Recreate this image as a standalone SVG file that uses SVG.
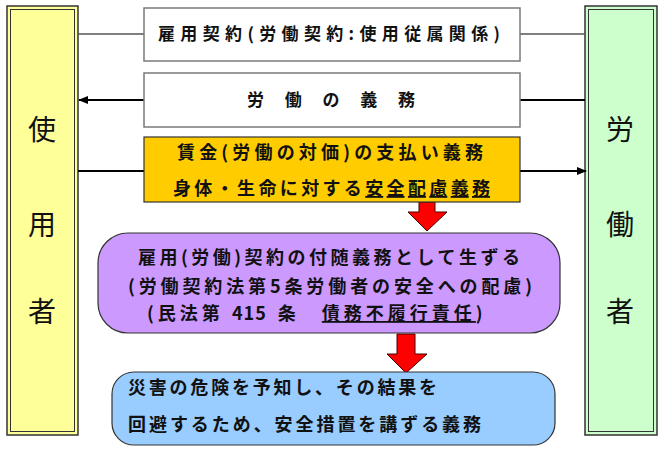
<svg xmlns="http://www.w3.org/2000/svg" width="667" height="455" viewBox="0 0 667 455">
<defs>
<style>
text{font-family:"Noto Sans CJK JP","Noto Sans CJK SC",sans-serif;font-weight:bold;fill:#111;}
.t17{font-size:17px;}
.t18{font-size:18px;}
.big{font-size:28px;font-weight:normal;text-anchor:middle;}
.side-outer{stroke:#333;stroke-width:1.5;}
.side-inner{fill:none;stroke:#333;stroke-width:1;}
.wbox{fill:#fff;stroke:#7a7a7a;stroke-width:1.5;}
.dbox{stroke:#333;stroke-width:1.2;}
.thin{stroke:#555;stroke-width:1.3;fill:none;}
.thick{stroke:#000;stroke-width:2.2;fill:none;}
.red{fill:#ff0000;stroke:#400;stroke-width:1;}
.u{text-decoration:underline;}
</style>
<marker id="ah" markerWidth="10" markerHeight="8" refX="9" refY="4" orient="auto" markerUnits="userSpaceOnUse">
<path d="M0,0 L10,4 L0,8 Z" fill="#000"/>
</marker>
</defs>

<g id="employer">
<rect class="side-outer" x="7" y="6" width="71" height="429" fill="#ffff99"/>
<rect class="side-inner" x="10.5" y="9.5" width="64" height="422"/>
<text class="big" x="42" y="140">使</text>
<text class="big" x="42" y="235">用</text>
<text class="big" x="42" y="322">者</text>
</g>

<g id="worker">
<rect class="side-outer" x="585" y="6" width="72" height="429" fill="#ccffcc"/>
<rect class="side-inner" x="588.5" y="9.5" width="65" height="422"/>
<text class="big" x="620" y="140">労</text>
<text class="big" x="620" y="235">働</text>
<text class="big" x="620" y="322">者</text>
</g>

<g id="connectors">
<line class="thin" x1="78" y1="34" x2="144" y2="34"/>
<line class="thin" x1="520" y1="34" x2="585" y2="34"/>
<line class="thick" x1="144" y1="100" x2="79" y2="100" marker-end="url(#ah)"/>
<line class="thick" x1="520" y1="100" x2="585" y2="100"/>
<line class="thick" x1="78" y1="171" x2="144" y2="171"/>
<line class="thick" x1="520" y1="171" x2="586" y2="171" marker-end="url(#ah)"/>
<polygon class="red" points="419,202 435,202 435,212 447,212 427,231 408,212 419,212"/>
<polygon class="red" points="397,334 415,334 415,354 427,354 406,373 387,354 397,354"/>
</g>

<g id="contract">
<rect class="wbox" x="144" y="8" width="376" height="53"/>
<text class="t17" x="158" y="40" textLength="342" lengthAdjust="spacing">雇用契約(労働契約:使用従属関係)</text>
</g>

<g id="labor-duty">
<rect class="wbox" x="144" y="73" width="376" height="54"/>
<text class="t17" x="247" y="106" textLength="168" lengthAdjust="spacing">労 働 の 義 務</text>
</g>

<g id="wage-duty">
<rect class="dbox" x="144" y="137" width="376" height="65" fill="#ffcc00"/>
<text class="t18" x="177" y="159" textLength="306" lengthAdjust="spacing">賃金(労働の対価)の支払い義務</text>
<text class="t18" x="173" y="195" textLength="317" lengthAdjust="spacing">身体・生命に対する<tspan class="u">安全配慮義務</tspan></text>
</g>

<g id="incidental-duty">
<rect class="dbox" x="98" y="233" width="462" height="100" rx="30" ry="30" fill="#cc99ff"/>
<text class="t18" x="138" y="264" textLength="382" lengthAdjust="spacing">雇用(労働)契約の付随義務として生ずる</text>
<text class="t18" x="128" y="293" textLength="404" lengthAdjust="spacing">(労働契約法第5条労働者の安全への配慮)</text>
<text class="t18" x="147" y="320" letter-spacing="4">(民法第 <tspan letter-spacing="1">41</tspan>5 条　<tspan class="u">債務不履行責任</tspan>)</text>
</g>

<g id="safety-measures">
<rect class="dbox" x="112" y="372" width="443" height="73" rx="22" ry="22" fill="#99ccff"/>
<text class="t18" x="128" y="394" textLength="309" lengthAdjust="spacing">災害の危険を予知し、その結果を</text>
<text class="t18" x="128" y="431" textLength="353" lengthAdjust="spacing">回避するため、安全措置を講ずる義務</text>
</g>
</svg>
